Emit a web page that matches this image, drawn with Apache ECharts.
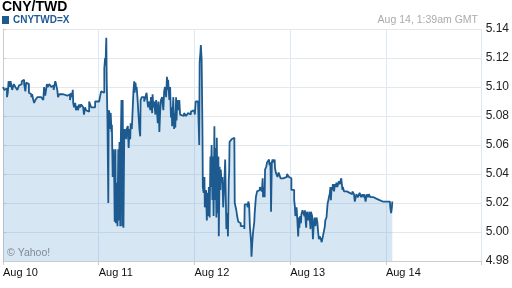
<!DOCTYPE html>
<html>
<head>
<meta charset="utf-8">
<script src="https://cdn.jsdelivr.net/npm/echarts@6/dist/echarts.min.js"></script>
<style>
html,body{margin:0;padding:0;background:#fff;}
#c{width:512px;height:288px;}
</style>
</head>
<body>
<div id="c"></div>
<script>
// Hours since Aug 10 00:00 GMT
const hours = [
0.0,0.3,0.6,1.0,1.2,1.4,1.7,1.9,2.3,2.7,3.1,3.6,4.0,4.3,4.7,5.1,5.3,5.6,5.8,6.1,
6.5,6.8,7.1,7.3,7.6,7.8,8.1,8.6,9.1,9.6,10.1,10.3,10.6,11.0,11.2,11.6,11.8,12.1,12.5,12.7,
13.1,13.3,13.6,13.8,14.1,14.6,15.1,15.6,16.1,16.6,16.8,17.1,17.3,17.5,17.6,17.8,18.1,18.3,18.6,18.8,
19.1,19.3,19.6,19.8,20.1,20.3,20.6,20.8,21.1,21.3,21.6,21.8,22.1,22.6,23.1,23.6,24.1,24.3,24.6,24.9,
25.1,25.4,25.6,25.7,25.9,26.0,26.2,26.4,26.5,26.7,26.9,27.0,27.2,27.3,27.5,27.7,27.9,28.0,28.2,28.3,
28.5,28.7,28.9,29.0,29.2,29.4,29.5,29.7,29.9,30.0,30.2,30.4,30.5,30.7,30.9,31.0,31.3,31.5,31.7,31.9,
32.0,32.3,32.5,32.7,32.9,33.0,33.2,33.4,33.5,33.7,33.9,34.2,34.4,34.5,34.8,35.1,35.4,35.7,36.0,36.2,
36.4,36.7,36.9,37.1,37.4,37.5,37.7,37.9,38.2,38.4,38.5,38.8,39.0,39.2,39.4,39.6,39.9,40.2,40.4,40.6,
40.9,41.1,41.3,41.4,41.7,41.9,42.1,42.3,42.4,42.7,42.9,43.0,43.2,43.4,43.5,43.7,43.9,44.2,44.4,44.9,
45.4,45.9,46.4,46.9,47.1,47.5,47.9,48.1,48.3,48.6,48.9,49.0,49.2,49.3,49.5,49.6,49.8,50.0,50.1,50.3,
50.5,50.6,50.9,51.1,51.3,51.5,51.6,51.8,52.0,52.1,52.3,52.5,52.6,52.8,53.0,53.1,53.3,53.5,53.6,53.8,
54.0,54.1,54.3,54.5,54.6,54.8,55.0,55.2,55.5,55.7,56.0,56.2,56.4,56.6,56.7,56.8,57.0,57.3,57.7,58.0,
58.1,58.5,58.7,59.0,59.2,59.6,60.0,60.5,60.6,60.9,61.1,61.3,61.5,61.7,61.9,62.2,62.3,62.5,62.7,63.0,
63.1,63.4,63.7,64.1,64.4,64.7,64.9,65.1,65.2,65.4,65.6,65.7,66.0,66.2,66.4,66.7,66.8,67.0,67.1,67.2,
67.4,67.6,67.7,67.9,68.1,68.2,68.4,68.8,69.1,69.6,70.2,70.7,71.2,71.7,72.1,72.3,72.7,73.0,73.2,73.3,
73.6,73.8,74.0,74.2,74.3,74.5,74.7,74.8,75.1,75.3,75.6,75.7,76.0,76.2,76.4,76.6,76.8,77.1,77.2,77.5,
77.7,77.9,78.1,78.3,78.6,78.8,79.0,79.2,79.4,79.7,79.9,80.2,80.4,80.7,80.8,81.1,81.3,81.4,81.6,81.7,
81.9,82.1,82.2,82.4,82.6,82.7,83.0,83.2,83.4,83.6,83.8,84.0,84.2,84.4,84.8,85.1,85.2,85.5,85.9,86.2,
86.5,86.9,87.3,87.6,87.7,88.0,88.2,88.6,89.0,89.4,89.8,90.1,90.4,90.6,90.9,91.2,91.5,91.7,92.1,92.6,
92.9,93.2,93.6,94.0,94.4,94.8,95.2,95.7,96.1,96.5,97.0,97.1,97.3,97.5,97.6
];
const rates = [
5.100,5.098,5.099,5.093,5.096,5.104,5.100,5.104,5.098,5.102,5.100,5.098,5.101,5.102,5.104,5.105,5.102,5.097,5.103,5.102,
5.096,5.095,5.093,5.095,5.091,5.089,5.091,5.093,5.093,5.092,5.091,5.100,5.094,5.102,5.100,5.102,5.103,5.100,5.101,5.098,
5.104,5.102,5.098,5.093,5.095,5.095,5.094,5.094,5.094,5.095,5.091,5.096,5.093,5.098,5.089,5.086,5.089,5.084,5.087,5.084,
5.088,5.086,5.088,5.087,5.086,5.081,5.086,5.084,5.085,5.083,5.090,5.089,5.086,5.086,5.090,5.090,5.091,5.093,5.097,5.098,
5.096,5.113,5.120,5.115,5.134,5.105,5.075,5.020,5.084,5.082,5.071,5.082,5.069,5.074,5.038,5.057,5.034,5.007,5.057,5.006,
5.034,5.004,5.057,5.008,5.062,5.004,5.057,5.091,5.004,5.091,5.003,5.069,5.071,5.072,5.064,5.071,5.073,5.058,5.071,5.064,
5.075,5.071,5.084,5.097,5.104,5.096,5.103,5.098,5.100,5.093,5.084,5.071,5.066,5.091,5.093,5.093,5.090,5.093,5.096,5.090,
5.086,5.090,5.084,5.093,5.082,5.095,5.086,5.090,5.081,5.091,5.088,5.075,5.090,5.069,5.083,5.091,5.093,5.084,5.097,5.100,
5.093,5.107,5.098,5.105,5.091,5.100,5.079,5.086,5.073,5.093,5.071,5.082,5.072,5.093,5.077,5.091,5.084,5.091,5.081,5.080,
5.082,5.080,5.082,5.081,5.083,5.084,5.083,5.081,5.090,5.090,5.090,5.091,5.060,5.117,5.124,5.129,5.119,5.071,5.031,5.027,
5.038,5.017,5.029,5.008,5.027,5.011,5.031,5.010,5.052,5.031,5.060,5.022,5.052,5.011,5.073,5.022,5.058,5.010,5.065,5.013,
5.052,4.997,5.045,5.029,5.043,5.034,5.038,5.017,5.034,5.050,5.002,5.013,4.997,5.036,5.041,5.062,5.062,5.064,5.065,5.065,
5.020,5.015,5.011,5.007,5.006,5.004,5.004,5.002,5.019,5.020,5.019,5.017,5.021,5.019,5.004,4.993,4.983,4.993,5.000,5.007,
5.013,5.024,5.028,5.029,5.031,5.031,5.028,5.037,5.024,5.031,5.024,5.043,5.045,5.048,5.048,5.050,5.046,5.048,5.041,5.014,
5.048,5.050,5.051,5.048,5.050,5.044,5.041,5.038,5.041,5.037,5.037,5.038,5.040,5.038,5.037,5.029,5.029,5.022,5.017,5.011,
5.017,5.008,4.997,5.010,5.003,5.011,5.006,5.012,5.015,5.013,5.011,5.015,5.003,5.014,5.013,5.008,5.014,5.002,5.014,5.011,
4.995,5.005,5.010,5.004,5.010,5.007,5.000,4.995,4.997,4.995,4.993,4.997,4.998,5.004,5.008,5.010,5.017,5.020,5.022,5.024,
5.026,5.031,5.022,5.031,5.029,5.033,5.028,5.033,5.031,5.034,5.031,5.031,5.035,5.033,5.037,5.029,5.031,5.028,5.028,5.027,
5.027,5.026,5.026,5.028,5.027,5.026,5.021,5.026,5.024,5.027,5.024,5.026,5.024,5.026,5.021,5.026,5.024,5.026,5.024,5.024,
5.024,5.023,5.022,5.022,5.022,5.021,5.022,5.021,5.022,5.021,5.021,5.017,5.013,5.017,5.021
];
const dayLabels = ['Aug 10','Aug 11','Aug 12','Aug 13','Aug 14'];
const yTicks = ['4.98','5.00','5.02','5.04','5.06','5.08','5.10','5.12','5.14'];
const titleText = 'CNY/TWD';
const seriesName = 'CNYTWD=X';
const stampText = 'Aug 14, 1:39am GMT';
const creditText = '\u00A9 Yahoo!';

const FONT = '"Liberation Sans", Arial, sans-serif';
const data = hours.map((h, i) => [h, rates[i]]);

const chart = echarts.init(document.getElementById('c'), null, {renderer: 'canvas'});
chart.setOption({
  animation: false,
  backgroundColor: '#ffffff',
  textStyle: {fontFamily: FONT},
  title: {
    text: titleText, left: 2, top: 0, padding: 0,
    textStyle: {fontFamily: FONT, fontSize: 14, fontWeight: 'bold', color: '#000'}
  },
  legend: {
    left: 2, top: 15, padding: 0, icon: 'rect', itemWidth: 7, itemHeight: 8, itemGap: 4,
    data: [seriesName],
    textStyle: {fontFamily: FONT, fontSize: 10, fontWeight: 'bold', color: '#1f5a96', padding: [0,0,0,-1]}
  },
  grid: {left: 3, right: 30, top: 29, bottom: 27, containLabel: false},
  xAxis: {
    type: 'value', min: 0, max: 120, interval: 24,
    axisLine: {show: true, lineStyle: {color: '#cccccc', width: 1}},
    axisTick: {show: true, length: 4, lineStyle: {color: '#cccccc'}},
    axisLabel: {
      show: true, align: 'left', margin: 6, color: '#111', fontSize: 11, fontFamily: FONT,
      formatter: v => dayLabels[Math.round(v / 24)] || ''
    },
    splitLine: {show: true, lineStyle: {color: '#dde8f3', width: 1}}
  },
  yAxis: {
    type: 'value', position: 'right', min: 4.98, max: 5.14, interval: 0.02,
    axisLine: {show: true, lineStyle: {color: '#cccccc', width: 1}},
    axisTick: {show: true, length: 3, lineStyle: {color: '#cccccc'}},
    axisLabel: {
      show: true, margin: 4, color: '#222', fontSize: 12, fontFamily: FONT,
      formatter: v => yTicks[Math.round((v - 4.98) / 0.02)] || v.toFixed(2)
    },
    splitLine: {show: true, lineStyle: {color: '#e4e8ee', width: 1}}
  },
  graphic: [
    {type: 'text', x: 478, y: 20, style: {text: stampText, font: '10.5px ' + FONT, fill: '#aaaaaa', align: 'right', verticalAlign: 'middle'}},
    {type: 'text', x: 7, y: 253, z: 10, style: {text: creditText, font: '10.5px ' + FONT, fill: '#7f8a94', align: 'left', verticalAlign: 'middle'}}
  ],
  series: [{
    name: seriesName, type: 'line', data: data, step: 'end',
    showSymbol: false, symbol: 'none',
    lineStyle: {color: '#1c5a8f', width: 1.8},
    itemStyle: {color: '#1c5a8f'},
    areaStyle: {color: '#5d9ccc', opacity: 0.25, origin: 'start'}
  }]
});
</script>
</body>
</html>
